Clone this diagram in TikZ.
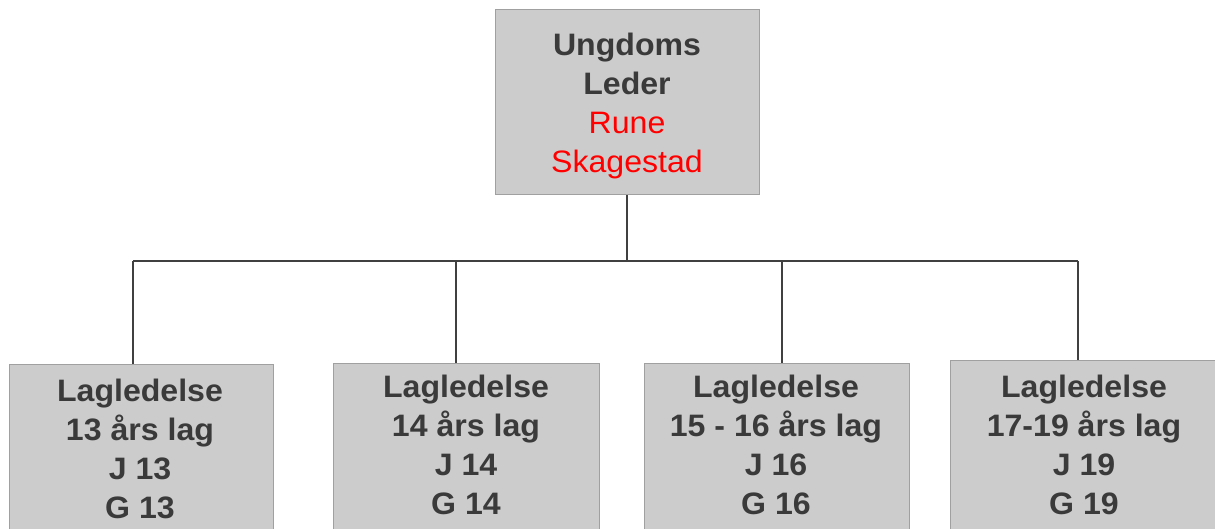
\documentclass[tikz,border=0pt]{standalone}
\usepackage{fontspec}
\setmainfont[FakeStretch=1.035]{Liberation Sans}
\definecolor{boxfill}{RGB}{204,204,204}
\definecolor{boxline}{RGB}{160,160,160}
\definecolor{txt}{RGB}{58,58,58}
\definecolor{conn}{RGB}{64,64,64}
\definecolor{redtxt}{RGB}{255,0,0}
\tikzset{
  orgbox/.style={draw=boxline, fill=boxfill, line width=1.3pt, inner sep=0pt, anchor=north west},
  btext/.style={inner sep=0pt, anchor=north, align=center, text=txt, font=\fontsize{31}{38.8}\selectfont\bfseries},
  ttext/.style={inner sep=0pt, anchor=north, align=center, text=txt, font=\fontsize{31}{39}\selectfont},
  link/.style={draw=conn, line width=1.2pt}
}
\begin{document}
\begin{tikzpicture}[x=1pt,y=-1pt]
\useasboundingbox (0,0) rectangle (1215,529);
% top box
\node[orgbox, minimum width=264pt, minimum height=185pt] (top) at (495,9) {};
\node[ttext] (toptext) at (627,32.8) {\textbf{Ungdoms}\\\textbf{Leder}\\\textcolor{redtxt}{Rune}\\\textcolor{redtxt}{Skagestad}};
% bottom boxes
\node[orgbox, minimum width=264pt, minimum height=220pt] (b1) at (9,364) {};
\node[orgbox, minimum width=266pt, minimum height=220pt] (b2) at (333,363) {};
\node[orgbox, minimum width=265pt, minimum height=220pt] (b3) at (644,363) {};
\node[orgbox, minimum width=268pt, minimum height=220pt] (b4) at (950,360) {};
\node[btext] (t1) at (140,379.3) {Lagledelse\\13 års lag\\J 13\\G 13};
\node[btext] (t2) at (466,375.3) {Lagledelse\\14 års lag\\J 14\\G 14};
\node[btext] (t3) at (776,375.3) {Lagledelse\\15 - 16 års lag\\J 16\\G 16};
\node[btext] (t4) at (1084,375.3) {Lagledelse\\17-19 års lag\\J 19\\G 19};
% connectors
\coordinate (hub) at (627,261);
\coordinate (s1) at (133,364);
\coordinate (s2) at (456,363);
\coordinate (s3) at (782,363);
\coordinate (s4) at (1078,360);
\draw[link] (top.south -| hub) -- (hub);
\draw[link] (s1 |- hub) -- (s4 |- hub);
\draw[link] (s1 |- hub) -- (s1);
\draw[link] (s2 |- hub) -- (s2);
\draw[link] (s3 |- hub) -- (s3);
\draw[link] (s4 |- hub) -- (s4);
\end{tikzpicture}
\end{document}
